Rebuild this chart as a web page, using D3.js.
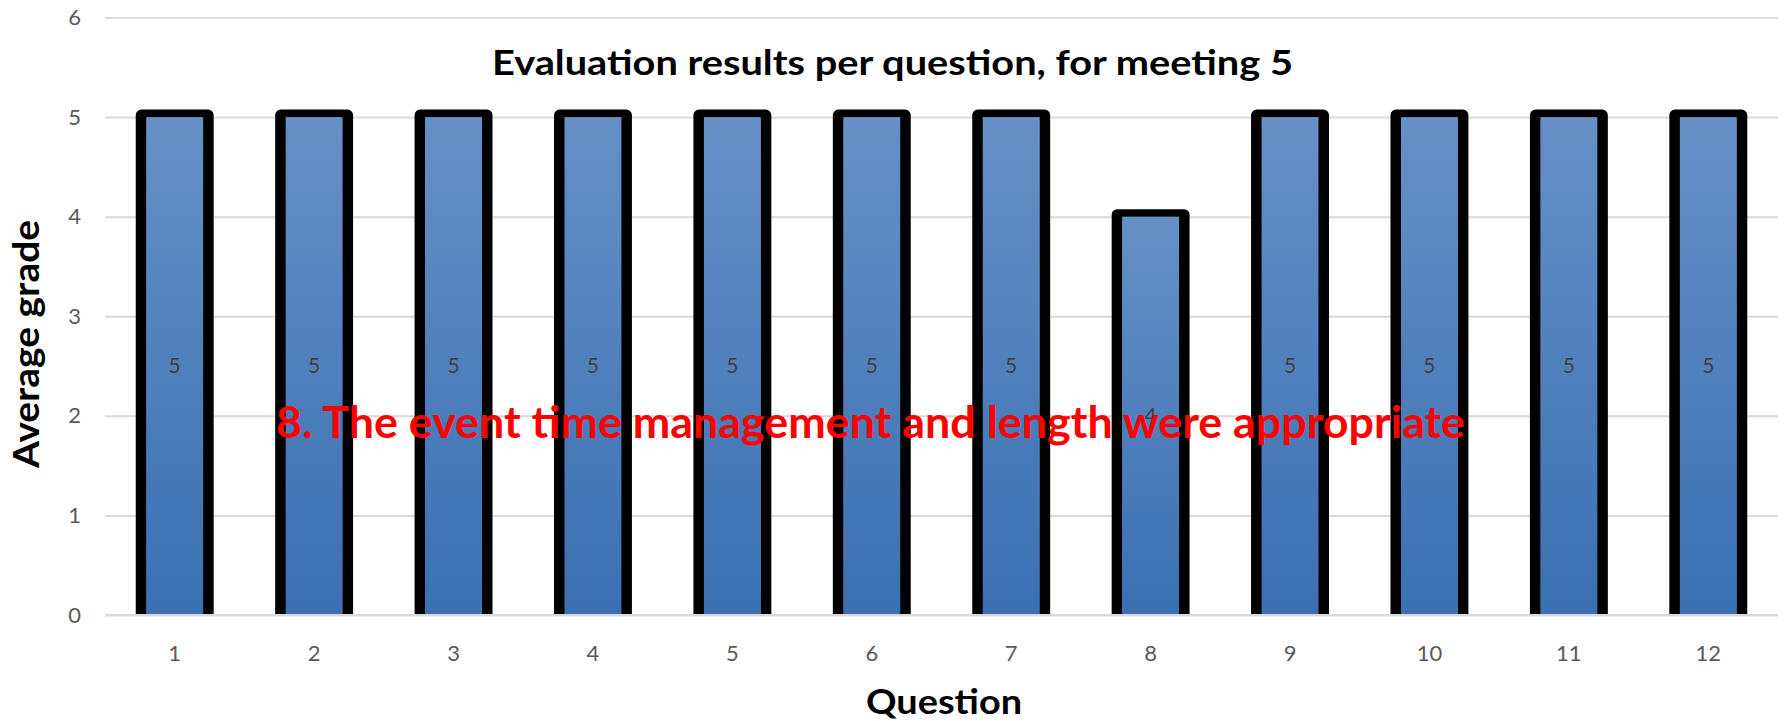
<!DOCTYPE html>
<html>
<head>
<meta charset="utf-8">
<script src="https://cdn.jsdelivr.net/npm/d3@7"></script>
<style>
	body { margin: 0; background: #fff; }
	svg text { font-family: Lato, "Open Sans", sans-serif; }
</style>
</head>
<body>
<div id="chart"></div>
<script>
	// data
	const questions = ['1', '2', '3', '4', '5', '6', '7', '8', '9', '10', '11', '12'];
	const grades = [5, 5, 5, 5, 5, 5, 5, 4, 5, 5, 5, 5];
	const yTicks = [0, 1, 2, 3, 4, 5, 6];

	const width = 1785, height = 721;
	const plot = { left: 105, right: 1778, top: 17.5, bottom: 615 };

	let svg = d3.select('#chart')
		.append('svg')
		.attr('width', width)
		.attr('height', height);

	//Gradient fill of the bars
	let grad = svg.append('defs').append('linearGradient')
		.attr('id', 'barFill')
		.attr('x1', 0).attr('y1', 0)
		.attr('x2', 0).attr('y2', 1);
	grad.append('stop').attr('offset', '0%').attr('stop-color', '#6690c6');
	grad.append('stop').attr('offset', '100%').attr('stop-color', '#3a70b3');

	let xScale = d3.scaleBand()
		.domain(questions)
		.range([plot.left, plot.right])
		.paddingInner(0.52)
		.paddingOuter(0.26);

	let yScale = d3.scaleLinear()
		.domain([0, 6])
		.range([plot.bottom, plot.top]);

	//Gridlines and y tick labels
	let yAxis = d3.axisLeft(yScale)
		.tickValues(yTicks)
		.tickFormat(d3.format('d'))
		.tickSize(-(plot.right - plot.left))
		.tickPadding(24);

	let yG = svg.append('g')
		.attr('transform', `translate(${plot.left}, 0)`)
		.call(yAxis);
	yG.select('.domain').remove();
	yG.selectAll('line').attr('stroke', '#d9d9d9').attr('stroke-width', 2);
	yG.selectAll('text')
		.attr('fill', '#595959')
		.style('font-size', '22px');

	//X tick labels
	let xG = svg.append('g')
		.attr('transform', `translate(0, ${plot.bottom})`)
		.call(d3.axisBottom(xScale).tickSize(0).tickPadding(30));
	xG.select('.domain').remove();
	xG.selectAll('text')
		.attr('fill', '#595959')
		.style('font-size', '22px');

	//Bars: black open outline first, then the gradient fill over it
	let bars = svg.selectAll('g.bar')
		.data(questions.map((q, i) => ({ q, v: grades[i] })))
		.enter()
		.append('g')
		.attr('class', 'bar');

	bars.append('path')
		.attr('d', d => {
			let x0 = xScale(d.q), x1 = x0 + xScale.bandwidth(), yt = yScale(d.v) - 2;
			return `M${x0},${plot.bottom}L${x0},${yt}L${x1},${yt}L${x1},${plot.bottom}`;
		})
		.attr('fill', 'none')
		.attr('stroke', '#000')
		.attr('stroke-width', 11)
		.attr('stroke-linejoin', 'round');

	bars.append('rect')
		.attr('x', d => xScale(d.q) + 5)
		.attr('y', d => yScale(d.v))
		.attr('width', xScale.bandwidth() - 10)
		.attr('height', d => plot.bottom - yScale(d.v))
		.attr('fill', 'url(#barFill)');

	//Baseline
	svg.append('line')
		.attr('x1', plot.left).attr('x2', plot.right)
		.attr('y1', plot.bottom).attr('y2', plot.bottom)
		.attr('stroke', '#d9d9d9')
		.attr('stroke-width', 2);

	//Value labels in the middle of each bar
	bars.append('text')
		.attr('x', d => xScale(d.q) + xScale.bandwidth() / 2)
		.attr('y', d => (yScale(d.v) + plot.bottom) / 2 + 7)
		.attr('text-anchor', 'middle')
		.attr('fill', '#404040')
		.style('font-size', '21px')
		.text(d => d.v);

	//Titles
	svg.append('text')
		.attr('x', 492).attr('y', 75)
		.attr('textLength', 801)
		.attr('lengthAdjust', 'spacingAndGlyphs')
		.style('font-size', '35px')
		.style('font-weight', 'bold')
		.text('Evaluation results per question, for meeting 5');

	svg.append('text')
		.attr('transform', 'rotate(-90)')
		.attr('x', -344).attr('y', 39)
		.attr('text-anchor', 'middle')
		.attr('textLength', 248)
		.attr('lengthAdjust', 'spacingAndGlyphs')
		.style('font-size', '36px')
		.style('font-weight', 'bold')
		.text('Average grade');

	svg.append('text')
		.attr('x', 944).attr('y', 714)
		.attr('text-anchor', 'middle')
		.attr('textLength', 156)
		.attr('lengthAdjust', 'spacingAndGlyphs')
		.style('font-size', '34px')
		.style('font-weight', 'bold')
		.text('Question');

	//Red annotation over the bars
	svg.append('text')
		.attr('x', 276).attr('y', 438)
		.attr('textLength', 1189)
		.attr('lengthAdjust', 'spacingAndGlyphs')
		.attr('fill', '#ff0000')
		.style('font-size', '43px')
		.style('font-weight', 'bold')
		.text('8. The event time management and length were appropriate');
</script>
</body>
</html>
